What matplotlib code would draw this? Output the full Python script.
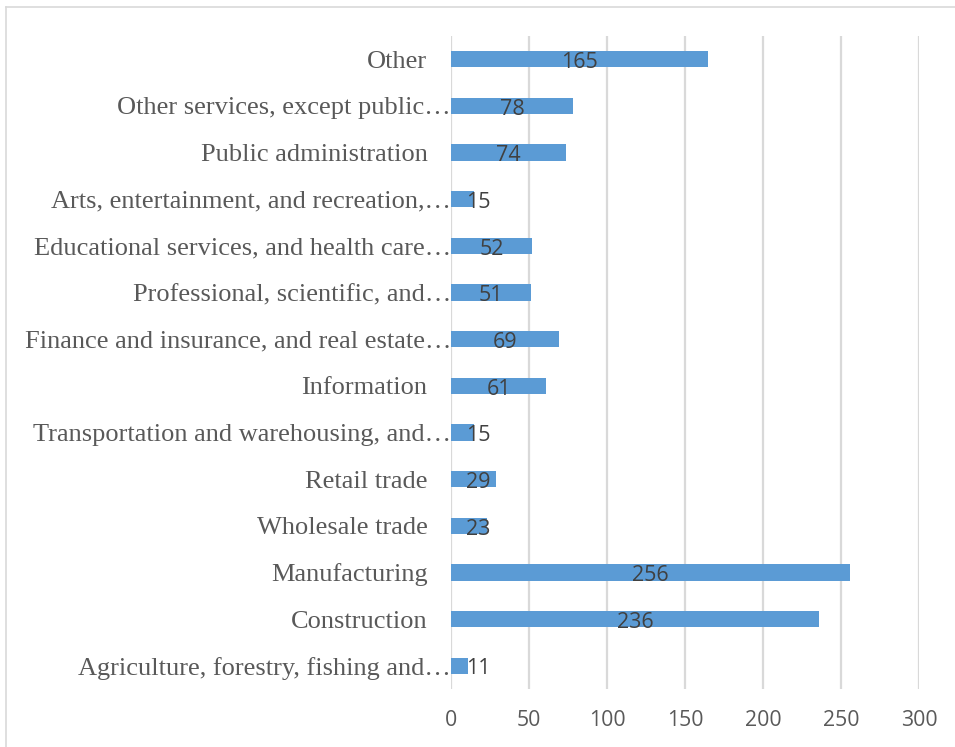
import matplotlib.pyplot as plt
from matplotlib.transforms import ScaledTranslation

# Categories listed bottom to top, as they appear on the y axis
categories = [
    "Agriculture, forestry, fishing and\u2026",
    "Construction",
    "Manufacturing",
    "Wholesale trade",
    "Retail trade",
    "Transportation and warehousing, and\u2026",
    "Information",
    "Finance and insurance, and real estate\u2026",
    "Professional, scientific, and\u2026",
    "Educational services, and health care\u2026",
    "Arts, entertainment, and recreation,\u2026",
    "Public administration",
    "Other services, except public\u2026",
    "Other",
]
values = [11, 236, 256, 23, 29, 15, 61, 69, 51, 52, 15, 74, 78, 165]
xticks = [0, 50, 100, 150, 200, 250, 300]

bar_color = "#5b9bd5"
grid_color = "#d9d9d9"
label_color = "#595959"
value_color = "#404040"

fig = plt.figure(figsize=(9.55, 7.47), dpi=100)
ax = fig.add_axes([0.4723, 0.0776, 0.49, 0.8742])

ypos = list(range(len(categories)))
ax.barh(ypos, values, height=0.35, color=bar_color, zorder=3)

ax.set_xlim(0, 300)
ax.set_ylim(-0.5, len(categories) - 0.5)
ax.set_xticks(xticks)
ax.set_xticklabels([str(t) for t in xticks], fontsize=15.3, color=label_color,
                   family="Open Sans")
ax.set_yticks(ypos)
ax.set_yticklabels(categories, fontsize=19, color=label_color,
                   family="Liberation Serif")
ax.tick_params(axis="y", length=0, pad=17)
ax.tick_params(axis="x", length=0, pad=15)

# truncated labels run a little further right, past the normal padding
shift = ScaledTranslation(17 / 72, 0, fig.dpi_scale_trans)
for lab in ax.get_yticklabels():
    if lab.get_text().endswith("\u2026"):
        lab.set_transform(lab.get_transform() + shift)

ax.xaxis.grid(True, color=grid_color, linewidth=1.6, zorder=0)
for side in ax.spines.values():
    side.set_visible(False)

# value labels sit in the middle of each bar, kept clear of the axis
for y, v in zip(ypos, values):
    ax.annotate(str(v), (max(v / 2, 17.7), y), xytext=(0, -6.3),
                textcoords="offset points", ha="center", va="baseline",
                fontsize=15.5, color=value_color, family="Open Sans", zorder=4)

# light outline along the top and left of the chart area
fig.add_artist(plt.Line2D([6 / 955, 1], [1 - 7 / 747, 1 - 7 / 747],
                          color=grid_color, linewidth=1.2,
                          transform=fig.transFigure))
fig.add_artist(plt.Line2D([6 / 955, 6 / 955], [0, 1 - 7 / 747],
                          color=grid_color, linewidth=1.2,
                          transform=fig.transFigure))

fig.savefig("out.png", dpi=100)
